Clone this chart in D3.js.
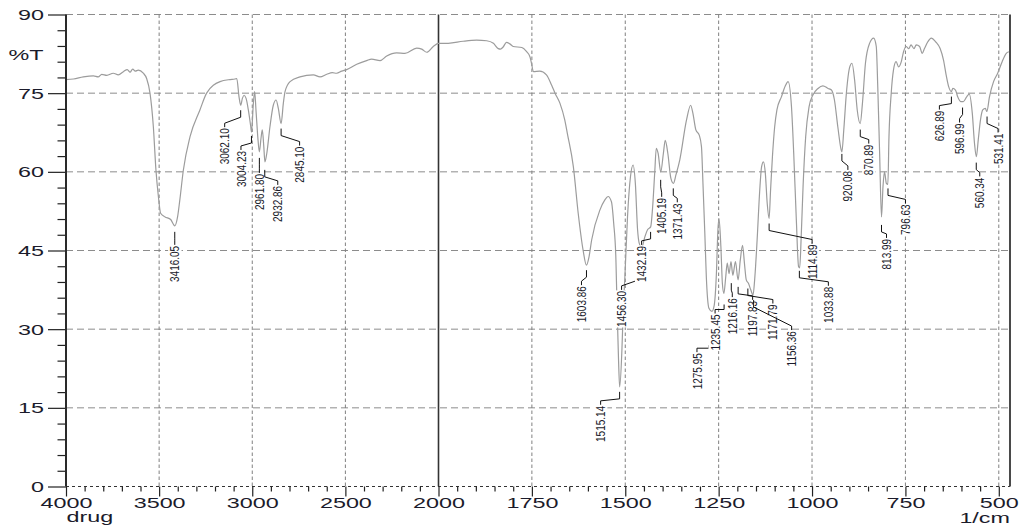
<!DOCTYPE html>
<html><head><meta charset="utf-8">
<script src="https://cdn.jsdelivr.net/npm/d3@7"></script>
<style>
html,body{margin:0;padding:0;background:#fff;}
svg{display:block;}
</style></head><body>
<svg id="chart" width="1022" height="531"></svg>
<script>
// FTIR spectrum (%T vs wavenumber) of the drug sample
const wavenumber = [
  4000, 3960, 3907, 3853, 3827, 3808, 3781, 3746, 3719, 3692, 3671, 3656, 3642, 3628, 3612,
  3585, 3567, 3549, 3531, 3517, 3504, 3492, 3468, 3438, 3416, 3401, 3389, 3370, 3334, 3281,
  3245, 3173, 3119, 3093, 3083, 3071, 3062, 3053, 3044, 3033, 3021, 3008, 3004, 2994, 2987,
  2980, 2969, 2962, 2953, 2946, 2938, 2932, 2922, 2905, 2887, 2872, 2860, 2845, 2833, 2824,
  2797, 2744, 2672, 2636, 2600, 2570, 2547, 2520, 2493, 2439, 2386, 2359, 2314, 2278, 2225,
  2180, 2117, 2090, 2063, 2028, 2000,
  1974, 1934, 1898, 1871, 1853, 1840, 1834, 1827, 1818, 1809, 1800, 1777, 1764, 1755, 1751,
  1746, 1729, 1711, 1697, 1688, 1675, 1662, 1655, 1639, 1626, 1613, 1604, 1597, 1590, 1568,
  1555, 1546, 1537, 1531, 1525, 1522, 1518, 1515, 1509, 1506, 1501, 1494, 1486, 1479, 1473,
  1467, 1463, 1456, 1448, 1440, 1432, 1427, 1421, 1417, 1412, 1405, 1398, 1393, 1386, 1378,
  1371, 1364, 1354, 1336, 1325, 1319, 1311, 1302, 1296, 1292, 1287, 1283, 1276, 1268, 1262,
  1256, 1252, 1249, 1244, 1240, 1236, 1231, 1227, 1222, 1217, 1212, 1205, 1198, 1192, 1186,
  1181, 1176, 1170, 1164, 1158, 1153, 1147, 1140, 1135, 1130, 1125, 1120, 1115, 1111, 1106,
  1100, 1094, 1082, 1072, 1064, 1055, 1049, 1042, 1036, 1033, 1029, 1024, 1017, 1008, 998,
  984, 971, 957, 948, 940, 931, 922, 920, 915, 908, 899, 893, 886, 879, 871,
  865, 857, 846, 835, 828, 824, 819, 814, 810, 806, 801, 797, 794, 788, 782,
  775, 768, 761, 755, 748, 741, 735, 727, 721, 712, 705, 699, 690, 681, 669,
  657, 648, 641, 634, 627, 623, 616, 610, 602, 595, 586, 579, 571, 565, 560,
  555, 549, 543, 536, 532, 525, 514, 503, 491, 480, 473
];
const transmittance = [
  77.6, 77.7, 78.1, 78.3, 78.1, 78.6, 78.4, 78.8, 78.5, 79.1, 79.5, 79.0, 79.6, 79.2, 79.4,
  78.8, 77.8, 75.0, 68.6, 60.3, 55.3, 52.1, 51.4, 50.9, 49.7, 51.4, 54.6, 60.3, 66.7, 71.8,
  75.0, 77.2, 77.6, 77.7, 77.8, 74.3, 72.7, 74.0, 74.6, 74.0, 71.8, 68.6, 67.6, 73.1, 75.3,
  71.8, 66.1, 63.8, 66.4, 68.0, 64.8, 61.9, 63.5, 68.6, 72.7, 73.7, 72.1, 69.2, 73.1, 75.3,
  77.2, 78.1, 78.5, 78.1, 78.6, 78.9, 78.8, 79.2, 79.5, 80.5, 81.2, 81.5, 81.2, 82.1, 82.7,
  82.6, 83.6, 83.4, 82.8, 83.9, 84.5,
  84.5, 84.9, 85.1, 85.0, 84.5, 83.5, 83.4, 83.8, 84.7, 84.4, 83.9, 83.7, 82.9, 81.9, 80.7,
  79.1, 79.2, 78.5, 76.5, 75.0, 73.1, 69.9, 67.3, 61.0, 52.1, 45.1, 42.2, 43.8, 47.0, 52.7,
  54.6, 55.3, 54.3, 50.2, 43.2, 34.3, 24.1, 19.0, 26.0, 32.4, 40.0, 51.4, 59.1, 61.3, 57.8,
  48.9, 46.5, 45.5, 47.5, 49.0, 49.5, 53.0, 60.0, 64.5, 63.5, 60.0, 63.5, 66.0, 63.5, 58.8,
  57.8, 59.5, 62.3, 69.9, 72.7, 71.2, 68.0, 67.0, 64.8, 57.8, 48.3, 40.0, 34.0, 33.4, 34.5,
  40.6, 48.9, 51.1, 45.7, 38.7, 36.8, 40.0, 42.6, 40.6, 42.9, 40.3, 42.9, 39.4, 43.2, 46.0,
  42.6, 39.4, 38.7, 37.5, 36.5, 40.0, 47.0, 56.5, 61.0, 61.9, 59.7, 54.0, 51.1, 56.5, 62.9,
  68.6, 71.8, 74.3, 76.3, 77.2, 72.4, 63.5, 50.8, 41.9, 41.7, 47.6, 57.2, 66.7, 72.4, 74.6,
  75.9, 76.4, 75.9, 75.6, 73.7, 68.6, 64.2, 63.8, 68.0, 75.0, 80.0, 80.7, 77.5, 71.8, 69.2,
  73.1, 80.7, 84.5, 85.5, 83.9, 76.2, 63.5, 51.4, 57.2, 60.0, 57.8, 57.6, 66.7, 75.0, 79.4,
  81.0, 80.0, 81.0, 82.9, 83.9, 83.5, 84.2, 83.5, 84.2, 83.9, 82.6, 83.5, 84.8, 85.5, 84.8,
  83.5, 81.3, 78.5, 76.2, 75.3, 75.9, 75.6, 74.3, 73.4, 73.4, 74.3, 74.8, 71.2, 65.4, 62.9,
  66.1, 69.9, 71.8, 72.1, 71.5, 74.3, 77.2, 78.8, 81.0, 82.6, 82.9
];

// annotated absorption bands
const peakWavenumber = [
  3416.05, 3062.10, 3004.23, 2961.80, 2932.86, 2845.10,
  1603.86, 1515.14, 1456.30, 1432.19, 1405.19, 1371.43,
  1275.95, 1235.45, 1216.16, 1197.83, 1171.79, 1156.36,
  1114.89, 1033.88, 920.08, 870.89, 813.99, 796.63,
  626.89, 596.99, 560.34, 531.41
];
const peakTransmittance = [
  49.7, 72.7, 67.6, 63.8, 61.9, 69.2,
  42.2, 19.0, 45.5, 49.5, 60.0, 57.8,
  34.0, 36.8, 40.3, 39.4, 38.7, 36.5,
  51.1, 41.7, 63.8, 69.2, 51.4, 57.6,
  75.3, 73.4, 62.9, 71.5
];

const xTickValues = [4000, 3500, 3000, 2500, 2000, 1750, 1500, 1250, 1000, 750, 500];
const yTickValues = [0, 15, 30, 45, 60, 75, 90];

// placement of the rotated peak labels: sideways shift, leader start gap, label top drop (px)
const labelDx   = [0, -16, -10.5, 0, 13, 18.5, -5, -19, -20, -9, 1, 4, -12, -9, 1, 14.5, 25, 38, 43, 29, 6, 8.5, 5, 17.5, -12, -3, 3.5, 11];
const labelGap  = [6, 5, 4, 6, 8, 5, 5, 5, 24, 5, 8, 5, 37, 11, 8, 7, 5, 5, 5, 3, 2, 6, 8, 4, 5, 6, 6, 5];
const labelDrop = [19, 22, 18, 21, 23, 22, 20, 18, 42, 18, 25, 19, 44, 20, 22, 20, 20, 35, 25, 18, 18, 20, 21, 19, 18, 21, 20, 21];

const FONT = "'Liberation Sans', Arial, Helvetica, sans-serif";
const WIDE = 1.67;   // horizontal stretch of the axis lettering
const TEXT = "#1b1b2b";

const svg = d3.select("#chart");
const plotL = 66, plotR = 1010, plotT = 14.5, plotB = 486.5;

// wavenumber axis: 4000-2000 at half the scale of 2000-470
const x = d3.scaleLinear().domain([4000, 2000, 470]).range([plotL, 438.5, plotR]);
const y = d3.scaleLinear().domain([0, 90]).range([plotB, plotT]);

const grid = svg.append("g");
// horizontal grid (long dashes)
grid.selectAll("line.h").data(yTickValues.filter(v => v > 0)).join("line")
  .attr("x1", plotL).attr("x2", plotR)
  .attr("y1", d => y(d)).attr("y2", d => y(d))
  .attr("stroke", "#8c8c8c").attr("stroke-width", 1).attr("stroke-dasharray", "7,4");
// vertical grid (short dashes)
grid.selectAll("line.v").data(xTickValues.filter(v => v !== 4000 && v !== 2000)).join("line")
  .attr("x1", d => x(d)).attr("x2", d => x(d))
  .attr("y1", plotT).attr("y2", plotB)
  .attr("stroke", "#808080").attr("stroke-width", 1).attr("stroke-dasharray", "3.5,2.5");
// scale change at 2000
grid.append("line")
  .attr("x1", x(2000)).attr("x2", x(2000)).attr("y1", plotT).attr("y2", plotB)
  .attr("stroke", "#333").attr("stroke-width", 1.6);
// baseline (dashed) and right frame
grid.append("line")
  .attr("x1", plotL).attr("x2", plotR).attr("y1", plotB).attr("y2", plotB)
  .attr("stroke", "#333").attr("stroke-width", 1).attr("stroke-dasharray", "3,3");
grid.append("line")
  .attr("x1", plotR).attr("x2", plotR).attr("y1", plotT).attr("y2", plotB)
  .attr("stroke", "#4a4a4a").attr("stroke-width", 2);

// spectrum trace
const spectrum = wavenumber.map((w, i) => [w, transmittance[i]]);
svg.append("path")
  .datum(spectrum)
  .attr("fill", "none")
  .attr("stroke", "#9c9c9c")
  .attr("stroke-width", 1.2)
  .attr("stroke-linejoin", "round")
  .attr("d", d3.line().x(d => x(d[0])).y(d => y(d[1])).curve(d3.curveMonotoneX));

// axes
const xMinor = d3.range(3900, 2000, -100).concat(d3.range(1950, 470, -50))
  .filter(v => !xTickValues.includes(v));
const yMinor = d3.range(3, 90, 3).filter(v => v % 15 !== 0);

const xAxis = svg.append("g").attr("transform", `translate(0,${plotB})`)
  .call(d3.axisBottom(x).tickValues(xTickValues).tickSize(10).tickPadding(2).tickFormat(d3.format("d")));
svg.append("g").attr("transform", `translate(0,${plotB})`)
  .call(d3.axisBottom(x).tickValues(xMinor).tickSize(5).tickFormat(""))
  .call(g => g.select(".domain").remove());

const yAxis = svg.append("g").attr("transform", `translate(${plotL},0)`)
  .call(d3.axisLeft(y).tickValues(yTickValues).tickSize(18).tickFormat(d3.format("d")));
svg.append("g").attr("transform", `translate(${plotL},0)`)
  .call(d3.axisLeft(y).tickValues(yMinor).tickSize(8.5).tickFormat(""))
  .call(g => g.select(".domain").remove());

svg.selectAll(".tick line").attr("stroke", "#222").attr("stroke-width", 1.2);
xAxis.select(".domain").remove();
yAxis.select(".domain").remove();
svg.append("line").attr("x1", plotL).attr("x2", plotL).attr("y1", plotT).attr("y2", plotB)
  .attr("stroke", "#2a2a2a").attr("stroke-width", 2);

xAxis.selectAll(".tick text")
  .attr("font-family", FONT).attr("font-size", 14).attr("fill", TEXT)
  .attr("transform", `scale(${WIDE},1)`);
yAxis.selectAll(".tick text")
  .attr("font-family", FONT).attr("font-size", 14).attr("fill", TEXT)
  .attr("x", -22 / WIDE).attr("dy", "0.36em")
  .attr("transform", `scale(${WIDE},1)`);

// axis captions
function caption(str, px, py, anchor) {
  svg.append("g").attr("transform", `translate(${px},${py}) scale(${WIDE},1)`)
    .append("text").text(str)
    .attr("font-family", FONT).attr("font-size", 14).attr("fill", TEXT)
    .attr("text-anchor", anchor);
}
caption("%T", 43.5, 60, "end");
caption("drug", 66.5, 522, "start");
caption("1/cm", 1010, 523, "end");

// peak annotations: leader line + rotated wavenumber label on white
const fmt = d3.format(".2f");
const notes = svg.append("g");
peakWavenumber.forEach((w, i) => {
  const px = x(w), py = y(peakTransmittance[i]);
  const lx = px + labelDx[i];
  const ltop = py + labelDrop[i];
  const y1 = py + labelGap[i];
  const y2 = Math.min(y1 + 7, ltop - 4);
  notes.append("path")
    .attr("d", `M${px},${y1}V${y2}L${lx},${ltop - 4}V${ltop}`)
    .attr("fill", "none").attr("stroke", "#111").attr("stroke-width", 1);
  const g = notes.append("g")
    .attr("transform", `translate(${lx},${ltop + 1}) scale(1.3,1) rotate(-90)`);
  const t = g.append("text").text(fmt(w))
    .attr("font-family", FONT).attr("font-size", 10).attr("fill", TEXT)
    .attr("text-anchor", "end").attr("dy", "0.35em");
  const b = t.node().getBBox();
  g.insert("rect", "text")
    .attr("x", b.x - 0.5).attr("y", b.y).attr("width", b.width + 1).attr("height", b.height)
    .attr("fill", "#fff");
});
</script>
</body></html>
